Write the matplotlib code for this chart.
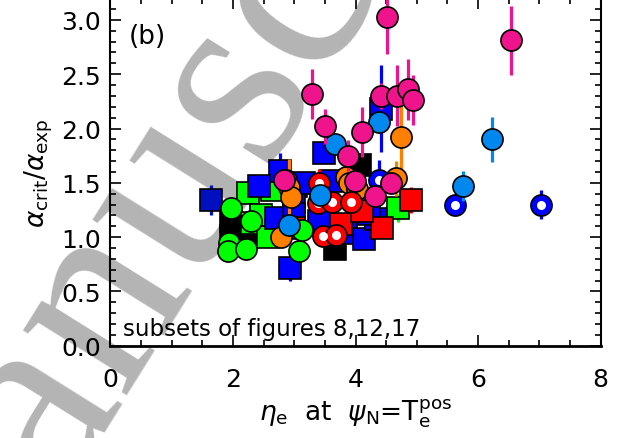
import matplotlib
matplotlib.use("Agg")
import matplotlib.pyplot as plt
from matplotlib.ticker import MultipleLocator

plt.rcParams['font.family'] = ['DejaVu Sans']
plt.rcParams['mathtext.fontset'] = 'dejavusans'

# filled squares
black_sq_x = [1.97, 1.97, 2.27, 3.67, 4.08]
black_sq_y = [1.15, 1.01, 1.04, 0.89, 1.66]
black_sq_err = [0.04, 0.04, 0.04, 0.04, 0.06]

green_sq_x = [2.24, 2.63, 2.31, 2.46, 2.57, 4.69]
green_sq_y = [1.41, 1.43, 1.13, 1.20, 1.00, 1.27]
green_sq_err = [0.06, 0.06, 0.04, 0.04, 0.04, 0.13]

navy_sq_x = [1.65]
navy_sq_y = [1.34]
navy_sq_err = [0.14]

blue_sq_x = [2.93, 3.49, 4.41, 2.76, 2.43, 3.03, 3.00, 2.70, 3.16, 3.60, 3.41, 3.84, 4.14, 4.33, 3.00, 4.22]
blue_sq_y = [0.72, 1.77, 2.18, 1.61, 1.47, 1.47, 1.32, 1.18, 1.50, 1.52, 1.15, 1.04, 0.98, 1.17, 1.21, 1.21]
blue_sq_err = [0.12, 0.06, 0.40, 0.16, 0.05, 0.06, 0.04, 0.04, 0.10, 0.05, 0.04, 0.04, 0.04, 0.04, 0.04, 0.04]

red_sq_x = [4.90, 4.43, 3.76, 4.11, 3.00]
red_sq_y = [1.34, 1.08, 1.12, 1.24, 1.08]
red_sq_err = [0.12, 0.04, 0.04, 0.04, 0.04]

# filled circles
green_c_x = [1.97, 2.30, 1.94, 1.92, 2.22, 3.07, 3.13]
green_c_y = [1.27, 1.15, 0.95, 0.875, 0.89, 0.87, 1.07]
green_c_err = [0.05, 0.04, 0.04, 0.04, 0.04, 0.04, 0.04]

orange_c_x = [4.74, 2.87, 2.92, 2.95, 2.78, 3.84, 3.89, 4.02, 4.66]
orange_c_y = [1.92, 1.53, 1.46, 1.37, 1.00, 1.55, 1.50, 1.44, 1.54]
orange_c_err = [0.30, 0.04, 0.26, 0.04, 0.04, 0.05, 0.05, 0.04, 0.16]

# open (ring) circles
red_ring_x = [3.40, 3.38, 3.62, 3.92, 3.47, 3.68]
red_ring_y = [1.50, 1.31, 1.32, 1.32, 1.01, 1.02]
red_ring_err = [0.13, 0.04, 0.04, 0.04, 0.04, 0.04]

blue_ring_x = [5.63, 7.03, 4.38]
blue_ring_y = [1.30, 1.30, 1.53]
blue_ring_err = [0.04, 0.13, 0.18]

sky_c_x = [6.23, 5.75, 4.39, 3.66, 3.42, 2.92]
sky_c_y = [1.90, 1.47, 2.06, 1.86, 1.39, 1.11]
sky_c_err = [0.21, 0.14, 0.05, 0.05, 0.04, 0.04]

pink_c_x = [4.52, 6.54, 3.29, 3.50, 4.10, 3.88, 4.41, 4.68, 4.86, 4.94, 2.84, 3.99, 4.32, 4.58]
pink_c_y = [3.03, 2.81, 2.32, 2.02, 1.97, 1.75, 2.30, 2.30, 2.36, 2.26, 1.53, 1.52, 1.38, 1.50]
pink_c_err = [0.34, 0.32, 0.23, 0.16, 0.23, 0.14, 0.12, 0.28, 0.28, 0.23, 0.05, 0.06, 0.05, 0.06]


def draw_set(ax, x, y, err, color, marker, z, ring=False):
    ax.errorbar(x, y, yerr=err, fmt='none', ecolor=color, elinewidth=2.3,
                capsize=0, zorder=z)
    ax.plot(x, y, ls='none', marker=marker, ms=15.2, mfc=color, mec='black',
            mew=1.2, zorder=z + 0.1)
    if ring:
        ax.plot(x, y, ls='none', marker='o', ms=6.5, mfc='white', mec='none',
                zorder=z + 0.2)


fig = plt.figure(figsize=(6.25, 4.39), dpi=100)
ax = fig.add_axes([0.1766, 0.21, 0.7844, 0.792])
ax.set_facecolor('none')

# grey diagonal watermark behind the axes
fig.text(0.32, 0.667, 'Manuscript', rotation=58, rotation_mode='anchor',
         ha='center', va='center', fontsize=192, family='Liberation Serif',
         color='#b4b4b4', zorder=-1)

draw_set(ax, black_sq_x, black_sq_y, black_sq_err, 'black', 's', 2)
draw_set(ax, green_sq_x, green_sq_y, green_sq_err, '#00ff00', 's', 3)
draw_set(ax, navy_sq_x, navy_sq_y, navy_sq_err, '#0010c0', 's', 3)
draw_set(ax, blue_sq_x, blue_sq_y, blue_sq_err, '#0000ff', 's', 4)
draw_set(ax, red_sq_x, red_sq_y, red_sq_err, '#ff0000', 's', 5)
draw_set(ax, green_c_x, green_c_y, green_c_err, '#00ff00', 'o', 6)
draw_set(ax, orange_c_x, orange_c_y, orange_c_err, '#ff8000', 'o', 7)
draw_set(ax, red_ring_x, red_ring_y, red_ring_err, '#ff0000', 'o', 8, ring=True)
draw_set(ax, blue_ring_x, blue_ring_y, blue_ring_err, '#0000ff', 'o', 9, ring=True)
draw_set(ax, sky_c_x, sky_c_y, sky_c_err, '#0088ee', 'o', 10)
draw_set(ax, pink_c_x, pink_c_y, pink_c_err, '#f0148c', 'o', 11)

ax.set_xlim(0, 8)
ax.set_ylim(0, 3.2)
ax.xaxis.set_major_locator(MultipleLocator(2))
ax.xaxis.set_minor_locator(MultipleLocator(0.5))
ax.yaxis.set_major_locator(MultipleLocator(0.5))
ax.yaxis.set_minor_locator(MultipleLocator(0.1))
ax.yaxis.set_major_formatter(plt.FormatStrFormatter('%.1f'))
ax.tick_params(which='both', direction='in', top=True, right=True, width=1.2)
ax.tick_params(which='major', length=7.7, labelsize=18)
ax.tick_params(which='minor', length=4)
ax.tick_params(axis='x', pad=15)
ax.tick_params(axis='y', pad=7)
for s in ax.spines.values():
    s.set_linewidth(1.5)
ax.spines['bottom'].set_linewidth(2)

ax.text(0.3, 2.85, '(b)', fontsize=19, va='center')
ax.text(0.21, 0.1, 'subsets of figures 8,12,17', fontsize=16.5, va='baseline')

ax.set_xlabel(r'$\eta_{\rm e}$  at  $\psi_{\rm N}$=T$_{\rm e}^{\rm pos}$', fontsize=19)
ax.set_ylabel(r'$\alpha_{\rm crit}/\alpha_{\rm exp}$', fontsize=19)

fig.savefig('out.png', dpi=100)
